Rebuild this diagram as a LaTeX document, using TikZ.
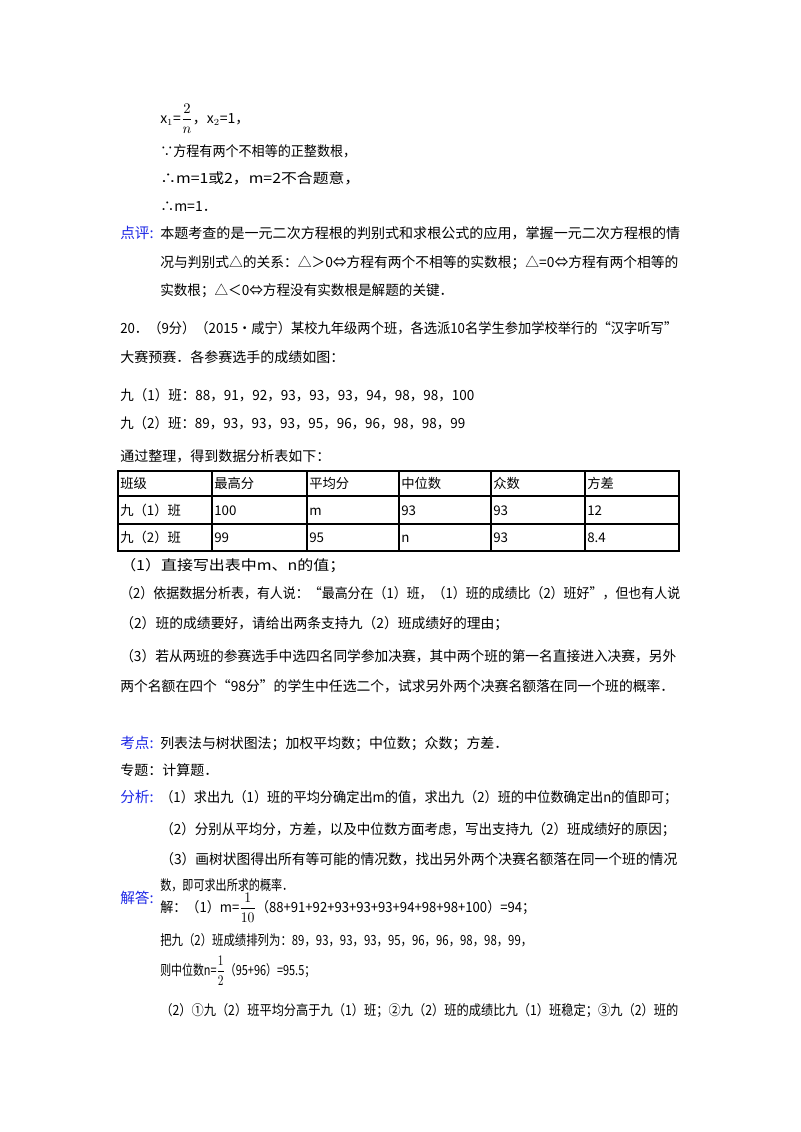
\documentclass[tikz,border=0pt]{standalone}
\usepackage{fontspec}
\usepackage{graphicx}
\setmainfont{Noto Sans CJK SC}
\definecolor{kblue}{RGB}{30,40,230}
\newcommand{\fw}[2]{\resizebox{\dimexpr #1pt*3/4\relax}{\height}{#2}}
\begin{document}
\begin{tikzpicture}[x=0.75pt,y=-0.75pt,
  t/.style={anchor=base west,inner sep=0pt,yshift=-3.8pt,font=\fontsize{10.5}{12}\selectfont},
  lab/.style={t,text=kblue,font=\fontsize{11}{12}\selectfont},
  cell/.style={t,font=\fontsize{10}{12}\selectfont}]
\useasboundingbox (0,0) rectangle (800,1132);
\fill[white] (0,0) rectangle (800,1132);
\node[t] (l1) at (160,118) {x$_1$=$\displaystyle\frac{2}{n}$，x$_2$=1，};
\node[t] (l2) at (160,151) {\fw{196}{∵方程有两个不相等的正整数根，}};
\node[t] (l3) at (160,178) {\fw{200}{∴m=1或2，m=2不合题意，}};
\node[t] (l4) at (160,206) {∴m=1．};
\node[lab] (dp) at (120,233) {点评:};
\node[t] (l5) at (160,233) {\fw{520}{本题考查的是一元二次方程根的判别式和求根公式的应用，掌握一元二次方程根的情}};
\node[t] (l6) at (160,262) {\fw{518}{况与判别式△的关系：△＞0⇔方程有两个不相等的实数根；△=0⇔方程有两个相等的}};
\node[t] (l7) at (160,290) {\fw{293}{实数根；△＜0⇔方程没有实数根是解题的关键．}};
\node[t] (q1) at (120,328) {\fw{557}{20．（9分）（2015•咸宁）某校九年级两个班，各选派10名学生参加学校举行的“汉字听写”}};
\node[t] (q2) at (120,357) {大赛预赛．各参赛选手的成绩如图：};
\node[t] (q3) at (120,395) {\fw{354}{九（1）班：88，91，92，93，93，93，94，98，98，100}};
\node[t] (q4) at (120,423) {\fw{345}{九（2）班：89，93，93，93，95，96，96，98，98，99}};
\node[t] (q5) at (120,456) {通过整理，得到数据分析表如下：};
\draw[line width=0.9pt] (118,471) rectangle (679,551);
\foreach \y in {496,524} \draw[line width=0.9pt] (118,\y) -- (679,\y);
\foreach \x in {212,307,399,491,585} \draw[line width=0.9pt] (\x,471) -- (\x,551);
\foreach \x/\a/\b/\c in {120/班级/九（1）班/九（2）班,214/最高分/100/99,309/平均分/m/95,401/中位数/93/n,493/众数/93/93,587/方差/12/8.4}{
  \node[cell] at (\x,483) {\a};
  \node[cell] at (\x,510) {\b};
  \node[cell] at (\x,537) {\c};
}
\node[t] (r1) at (120,565) {\fw{225}{（1）直接写出表中m、n的值；}};
\node[t] (r2) at (120,593) {\fw{560}{（2）依据数据分析表，有人说：“最高分在（1）班，（1）班的成绩比（2）班好”，但也有人说}};
\node[t] (r3) at (120,623) {\fw{388}{（2）班的成绩要好，请给出两条支持九（2）班成绩好的理由；}};
\node[t] (r4) at (120,656) {\fw{556}{（3）若从两班的参赛选手中选四名同学参加决赛，其中两个班的第一名直接进入决赛，另外}};
\node[t] (r5) at (120,686) {\fw{554}{两个名额在四个“98分”的学生中任选二个，试求另外两个决赛名额落在同一个班的概率．}};
\node[lab] (kd) at (120,743) {考点:};
\node[t] (s1) at (160,743) {\fw{348}{列表法与树状图法；加权平均数；中位数；众数；方差．}};
\node[t] (s2) at (120,770) {专题：计算题．};
\node[lab] (fx) at (120,797) {分析:};
\node[t] (s3) at (160,797) {\fw{517}{（1）求出九（1）班的平均分确定出m的值，求出九（2）班的中位数确定出n的值即可；}};
\node[t] (s4) at (160,829) {\fw{515}{（2）分别从平均分，方差，以及中位数方面考虑，写出支持九（2）班成绩好的原因；}};
\node[t] (s5) at (160,859) {\fw{517}{（3）画树状图得出所有等可能的情况数，找出另外两个决赛名额落在同一个班的情况}};
\node[t] (s6) at (160,885) {\fw{133}{数，即可求出所求的概率．}};
\node[lab] (jd) at (120,898) {解答:};
\node[t] (a1) at (160,907) {\fw{375}{解：（1）m=$\displaystyle\frac{1}{10}$（88+91+92+93+93+93+94+98+98+100）=94；}};
\node[t] (a2) at (160,940) {\fw{372}{把九（2）班成绩排列为：89，93，93，93，95，96，96，98，98，99，}};
\node[t] (a3) at (160,970) {\fw{155}{则中位数n=$\displaystyle\frac{1}{2}$（95+96）=95.5；}};
\node[t] (a4) at (160,1010) {\fw{518}{（2）①九（2）班平均分高于九（1）班；②九（2）班的成绩比九（1）班稳定；③九（2）班的}};
\end{tikzpicture}
\end{document}
